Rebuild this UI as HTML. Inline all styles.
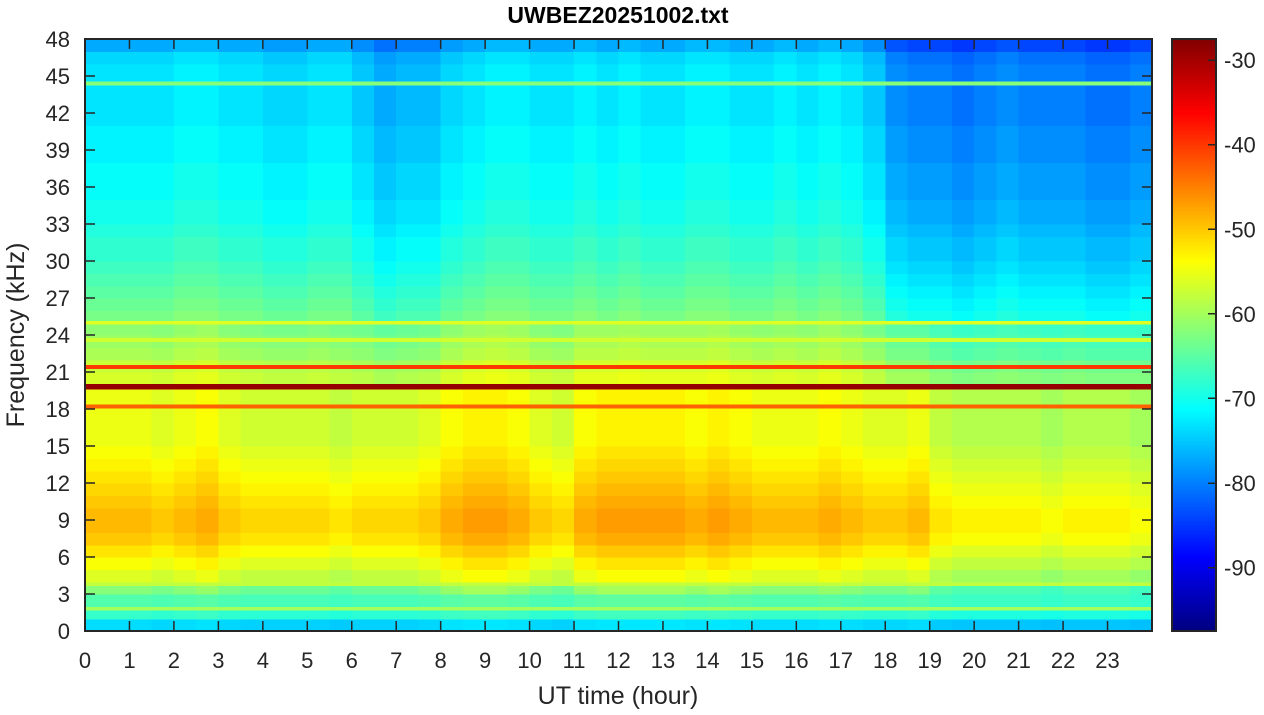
<!DOCTYPE html>
<html><head><meta charset="utf-8"><style>
body{margin:0;background:#fff;}
svg{display:block;font-family:"Liberation Sans",sans-serif;}
</style></head><body>
<svg id="chart" width="1264" height="715" viewBox="0 0 1264 715" xmlns="http://www.w3.org/2000/svg">
<g id="cells" shape-rendering="crispEdges"></g>
<g id="lines" shape-rendering="crispEdges"></g>
<rect x="85" y="39" width="1067" height="592" fill="none" stroke="#262626" stroke-width="2"/>
<g id="axes"></g>
<g id="cbar" shape-rendering="crispEdges"></g>
<text x="618" y="23" text-anchor="middle" font-size="23" font-weight="bold" fill="#000">UWBEZ20251002.txt</text>
<text x="618" y="704" text-anchor="middle" font-size="25" fill="#262626">UT time (hour)</text>
<text transform="translate(24,335) rotate(-90)" text-anchor="middle" font-size="25" fill="#262626">Frequency (kHz)</text>
</svg>
<script>
// frequency profile (dB) per 1 kHz bin, 0..47 kHz
const freqProfile=[-74,-68,-66,-63,-57,-55,-53,-51,-50,-50,-51,-52,-53,-54,-55,-56,-56,-56,-56,-56,-57,-58,-60,-61,-62,-63,-64,-65,-66,-67,-68,-68,-69,-70,-70,-71,-71,-71,-72,-72,-72,-73,-73,-73,-73,-73,-74,-77];
// per half-hour offsets (dB), low band and high band
const lowOffset=[1,1,1,0,1,2,0,-1,-1,-1,-1,-2,-1,-1,-1,0,2,3,3,2,0,-1,2,3,3,3,3,2,3,2,1,1,1,2,1,0,0,1,-2,-3,-3,-3,-3,-4,-3,-3,-3,-4];
const highOffset=[0,0,0,0,1,1,0,0,-1,-1,0,0,-2,-4,-3,-3,-1,0,1,1,0,0,1,0,1,0,0,1,1,0,0,1,0,1,0,-2,-6,-7,-7,-8,-7,-6,-7,-7,-7,-8,-8,-7];
// narrowband lines
const lineFreqs=[19.8,21.4,18.2,25,44.4,3.8,1.8,23.6];
const lineValues=[-29,-40,-43,-56,-62,-58,-60,-57];
const xTicks=[0,1,2,3,4,5,6,7,8,9,10,11,12,13,14,15,16,17,18,19,20,21,22,23];
const yTicks=[0,3,6,9,12,15,18,21,24,27,30,33,36,39,42,45,48];
const cTicks=[-30,-40,-50,-60,-70,-80,-90];

const X0=85,X1=1152,Y0=39,Y1=631,CMIN=-97.5,CMAX=-27.5;
const xs=h=>X0+h/24*(X1-X0);
const ys=f=>Y1-f/48*(Y1-Y0);
const NS='http://www.w3.org/2000/svg';
function jet(v){
  let t=(v-CMIN)/(CMAX-CMIN);t=Math.max(0,Math.min(1,t));
  const f=x=>Math.max(0,Math.min(1,x));
  const r=f(Math.min(4*t-1.5,-4*t+4.5)),g=f(Math.min(4*t-0.5,-4*t+3.5)),b=f(Math.min(4*t+0.5,-4*t+2.5));
  return `rgb(${Math.round(r*255)},${Math.round(g*255)},${Math.round(b*255)})`;
}
function mk(tag,attrs,parent){const e=document.createElementNS(NS,tag);for(const k in attrs)e.setAttribute(k,attrs[k]);parent.appendChild(e);return e;}
const cells=document.getElementById('cells');
const nT=lowOffset.length;
for(let i=0;i<nT;i++){
  for(let j=0;j<freqProfile.length;j++){
    let off;
    if(j<20)off=lowOffset[i];else if(j<25)off=(lowOffset[i]+highOffset[i])/2;else off=highOffset[i];
    if(j<3)off*=0.4;
    const v=freqProfile[j]+off;
    const x=xs(i*24/nT),x2=xs((i+1)*24/nT),y=ys(j+1),y2=ys(j);
    const r=mk('rect',{x:x,y:y,width:x2-x+0.6,height:y2-y+0.6,fill:jet(v)},cells);
    
    
  }
}
const lines=document.getElementById('lines');
lineFreqs.forEach((f,k)=>{
  const h=k===0?0.45:0.3;
  const r=mk('rect',{x:X0,y:ys(f+h/2),width:X1-X0,height:ys(f-h/2)-ys(f+h/2),fill:jet(lineValues[k])},lines);
  
  
});
const axes=document.getElementById('axes');
xTicks.forEach(h=>{
  const x=xs(h);
  const l=mk('line',{x1:x,x2:x,y1:Y1,y2:Y1-10,stroke:'#262626','stroke-width':1.5},axes);
  
  
  const l2=mk('line',{x1:x,x2:x,y1:Y0,y2:Y0+10,stroke:'#262626','stroke-width':1.5},axes);
  
  
  const t=mk('text',{x:x,y:668,'text-anchor':'middle','font-size':22,fill:'#262626'},axes);
  t.textContent=h;
  
  
});
yTicks.forEach(f=>{
  const y=ys(f);
  const l=mk('line',{x1:X0,x2:X0+10,y1:y,y2:y,stroke:'#262626','stroke-width':1.5},axes);
  
  
  const l2=mk('line',{x1:X1,x2:X1-10,y1:y,y2:y,stroke:'#262626','stroke-width':1.5},axes);
  
  
  const t=mk('text',{x:70,y:y+8,'text-anchor':'end','font-size':22,fill:'#262626'},axes);
  t.textContent=f;
  
  
});
const cbar=document.getElementById('cbar');
const CX0=1172,CX1=1216;
const cy=v=>Y1-(v-CMIN)/(CMAX-CMIN)*(Y1-Y0);
for(let p=Y0;p<Y1;p+=2){
  const v=CMIN+(Y1-p-1)/(Y1-Y0)*(CMAX-CMIN);
  const r=mk('rect',{x:CX0,y:p,width:CX1-CX0,height:2.5,fill:jet(v)},cbar);
  
  
}
const fr=mk('rect',{x:CX0,y:Y0,width:CX1-CX0,height:Y1-Y0,fill:'none',stroke:'#262626','stroke-width':2},cbar);


cTicks.forEach(v=>{
  const y=cy(v);
  const l=mk('line',{x1:CX1-8,x2:CX1,y1:y,y2:y,stroke:'#262626','stroke-width':1.5},cbar);
  
  
  const t=mk('text',{x:1224,y:y+8,'font-size':22,fill:'#262626'},cbar);
  t.textContent=v;
  
  
});
</script>
</body></html>
